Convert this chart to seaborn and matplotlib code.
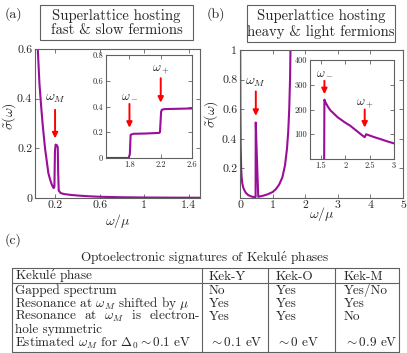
import matplotlib
matplotlib.use('Agg')
import matplotlib.pyplot as plt
import seaborn as sns
import pandas as pd
from matplotlib.patches import Rectangle

# ---------------- data ----------------
# panel (a) main curve
a_omega = [0.03, 0.045, 0.06, 0.075, 0.09, 0.11, 0.125, 0.14, 0.155, 0.17, 0.18, 0.188, 0.194,
           0.199, 0.205, 0.215, 0.224, 0.228, 0.233, 0.25, 0.28, 0.33, 0.4, 0.5, 0.6, 0.8, 1.0, 1.2, 1.5]
a_sigma = [0.8, 0.6, 0.46, 0.37, 0.29, 0.2, 0.15, 0.1, 0.075, 0.055, 0.045, 0.04, 0.045,
           0.19, 0.215, 0.213, 0.205, 0.1, 0.03, 0.02, 0.016, 0.013, 0.01, 0.007, 0.005, 0.003, 0.002, 0.0015, 0.001]
a_xticks = [0.2, 0.6, 1, 1.4]
a_xticklabels = ['0.2', '0.6', '1', '1.4']
a_yticks = [0, 0.2, 0.4, 0.6]
a_yticklabels = ['0', '0.2', '0.4', '0.6']

# panel (a) inset
ia_omega = [1.5, 1.79, 1.805, 1.815, 1.85, 2.0, 2.18, 2.19, 2.205, 2.215, 2.25, 2.4, 2.6]
ia_sigma = [0, 0, 0.03, 0.18, 0.188, 0.19, 0.195, 0.2, 0.36, 0.375, 0.38, 0.382, 0.385]
ia_xticks = [1.8, 2.2, 2.6]
ia_xticklabels = ['1.8', '2.2', '2.6']
ia_yticks = [0, 0.2, 0.4, 0.6, 0.8]
ia_yticklabels = ['0', '0.2', '0.4', '0.6', '0.8']

# panel (b) main curve
b_omega = [0.005, 0.012, 0.02, 0.035, 0.05, 0.07, 0.1, 0.14, 0.18, 0.25, 0.35, 0.45, 0.478, 0.483,
           0.52, 0.56, 0.6, 0.7, 0.85, 1.0, 1.1, 1.2, 1.3, 1.38, 1.44, 1.48, 1.51, 1.535, 1.555]
b_sigma = [1.1, 0.6, 0.35, 0.2, 0.14, 0.1, 0.07, 0.05, 0.035, 0.02, 0.01, 0.006, 0.006, 0.51,
           0.26, 0.008, 0.01, 0.015, 0.025, 0.04, 0.06, 0.09, 0.14, 0.22, 0.33, 0.45, 0.6, 0.8, 1.1]
b_xticks = [0, 1, 2, 3, 4, 5]
b_xticklabels = ['0', '1', '2', '3', '4', '5']
b_yticks = [0.2, 0.4, 0.6, 0.8, 1]
b_yticklabels = ['0.2', '0.4', '0.6', '0.8', '1']

# panel (b) inset
ib_omega = [1.57, 1.575, 1.6, 1.65, 1.7, 1.76, 1.85, 2.0, 2.1, 2.24, 2.32, 2.4, 2.43, 2.5, 2.6, 2.73, 2.85, 3.0]
ib_sigma = [0, 240, 228, 210, 196, 185, 168, 147, 135, 113, 100, 88, 100, 95, 88, 80, 72, 63]
ib_xticks = [1.5, 2, 2.5, 3]
ib_xticklabels = ['1.5', '2', '2.5', '3']
ib_yticks = [100, 200, 300, 400]
ib_yticklabels = ['100', '200', '300', '400']

# markers (arrows): x, arrow start y, arrow tip y, label y, label
a_marks = [(0.2, 0.355, 0.24, 0.40, r'$\omega_M$')]
ia_marks = [(1.8, 0.42, 0.235, 0.49, r'$\omega_-$'), (2.2, 0.62, 0.43, 0.69, r'$\omega_+$')]
b_marks = [(0.485, 0.72, 0.555, 0.775, r'$\omega_M$')]
ib_marks = [(1.575, 316, 262, 352, r'$\omega_-$'), (2.4, 200, 127, 225, r'$\omega_+$')]

KEKULE = r'Kekul$\acute{\mathrm{e}}$'
titles = ['Superlattice hosting\nfast & slow fermions', 'Superlattice hosting\nheavy & light fermions']
table_title = 'Optoelectronic signatures of ' + KEKULE + ' phases'
table_header = [KEKULE + ' phase', 'Kek-Y', 'Kek-O', 'Kek-M']
table_rows = [
    ['Gapped spectrum', 'No', 'Yes', 'Yes/No'],
    [r'Resonance at $\omega_M$ shifted by $\mu$', 'Yes', 'Yes', 'Yes'],
    [r'Resonance  at  $\omega_M$  is  electron-', 'Yes', 'Yes', 'No'],
    ['hole symmetric', '', '', ''],
    [r'Estimated $\omega_M$ for $\Delta_0\sim0.1$ eV', r'$\sim0.1$ eV', r'$\sim0$ eV', r'$\sim0.9$ eV'],
]

# ---------------- style ----------------
sns.set_style('ticks')
plt.rcParams['font.family'] = ['cmr10', 'DejaVu Serif']
plt.rcParams['mathtext.fontset'] = 'cm'
plt.rcParams['axes.formatter.use_mathtext'] = True
plt.rcParams['axes.unicode_minus'] = False

LINE = '#9a0e9a'
FRAME = '#606060'
W, H = 407, 353
TFS = 9.5

fig = plt.figure(figsize=(W / 100, H / 100), dpi=100)


def px_axes(l, r, t, b):
    return fig.add_axes([l / W, 1 - b / H, (r - l) / W, (b - t) / H])


def style_axes(ax, fs):
    for s in ax.spines.values():
        s.set_color(FRAME)
        s.set_linewidth(0.8)
    ax.tick_params(direction='in', top=True, right=True, length=3, width=0.6,
                   color=FRAME, labelsize=fs, pad=2)


def draw_curve(ax, x, y):
    df = pd.DataFrame({'w': x, 's': y})
    sns.lineplot(data=df, x='w', y='s', ax=ax, estimator=None, sort=False,
                 color=LINE, lw=1.5)
    ax.set_xlabel('')
    ax.set_ylabel('')


def draw_marks(ax, marks, fs):
    for x, y0, y1, yl, lab in marks:
        ax.annotate('', xy=(x, y1), xytext=(x, y0),
                    arrowprops=dict(arrowstyle='-|>', color='red', lw=1.4,
                                    mutation_scale=8, shrinkA=0, shrinkB=0))
        ax.text(x, yl, lab, ha='center', va='center', fontsize=fs)


# panel (a)
axa = px_axes(35, 200, 49, 198)
draw_curve(axa, a_omega, a_sigma)
axa.set_xlim(0.02, 1.5)
axa.set_ylim(0, 0.6)
axa.set_xticks(a_xticks, a_xticklabels)
axa.set_yticks(a_yticks, a_yticklabels)
style_axes(axa, 8.5)
axa.set_xlabel(r'$\omega/\mu$', fontsize=10, labelpad=1)
axa.set_ylabel(r'$\tilde{\sigma}(\omega)$', fontsize=10)
axa.yaxis.set_label_coords(-0.1, 0.55)
draw_marks(axa, a_marks, 10)

axia = px_axes(106, 192, 55, 158)
draw_curve(axia, ia_omega, ia_sigma)
axia.set_xlim(1.5, 2.6)
axia.set_ylim(0, 0.8)
axia.set_xticks(ia_xticks, ia_xticklabels)
axia.set_yticks(ia_yticks, ia_yticklabels)
style_axes(axia, 6)
draw_marks(axia, ia_marks, 9)

# panel (b)
axb = px_axes(240, 403, 50, 198)
draw_curve(axb, b_omega, b_sigma)
axb.set_xlim(0, 5)
axb.set_ylim(0, 1)
axb.set_xticks(b_xticks, b_xticklabels)
axb.set_yticks(b_yticks, b_yticklabels)
style_axes(axb, 8.5)
axb.set_xlabel(r'$\omega/\mu$', fontsize=10, labelpad=-4)
axb.set_ylabel(r'$\tilde{\sigma}(\omega)$', fontsize=10)
axb.yaxis.set_label_coords(-0.12, 0.57)
draw_marks(axb, b_marks, 10)

axib = px_axes(310, 394, 60, 159)
draw_curve(axib, ib_omega, ib_sigma)
axib.set_xlim(1.28, 3)
axib.set_ylim(0, 400)
axib.set_xticks(ib_xticks, ib_xticklabels)
axib.set_yticks(ib_yticks, ib_yticklabels)
style_axes(axib, 6)
draw_marks(axib, ib_marks, 9)

# ---------------- overlay (titles, labels, table) ----------------
ov = fig.add_axes([0, 0, 1, 1])
ov.set_xlim(0, W)
ov.set_ylim(H, 0)
ov.axis('off')
ov.patch.set_alpha(0)

for (l, r, t, b), title in zip([(40, 193, 5, 40), (247, 395, 5, 42)], titles):
    ov.add_patch(Rectangle((l, t), r - l, b - t, fc='white', ec=FRAME, lw=0.8))
    ov.text((l + r) / 2, (t + b) / 2 + 0.5, title, ha='center', va='center',
            fontsize=10.6, linespacing=1.1)

ov.text(5, 18, '(a)', fontsize=10, va='baseline')
ov.text(207, 18, '(b)', fontsize=10, va='baseline')
ov.text(5, 244, '(c)', fontsize=10, va='baseline')

ov.text(205, 262, table_title, ha='center', va='baseline', fontsize=TFS)

tl, tr, tt, th, tb = 12, 399, 268, 283, 352
cols = [tl, 202, 268, 335, tr]
for y in (tt, th, tb):
    ov.plot([tl, tr], [y, y], color=FRAME, lw=0.8)
for x in cols:
    ov.plot([x, x], [tt, tb], color=FRAME, lw=0.8)

text_x = [15, 209, 276, 344]
for x, s in zip(text_x, table_header):
    ov.text(x, 280, s, fontsize=TFS, va='baseline')

row_base = [294, 307, 320, 333, 346.5]
for yb, row in zip(row_base, table_rows):
    for x, s in zip(text_x, row):
        if s:
            ov.text(x, yb, s, fontsize=TFS, va='baseline')

fig.savefig('out.png', dpi=100)
